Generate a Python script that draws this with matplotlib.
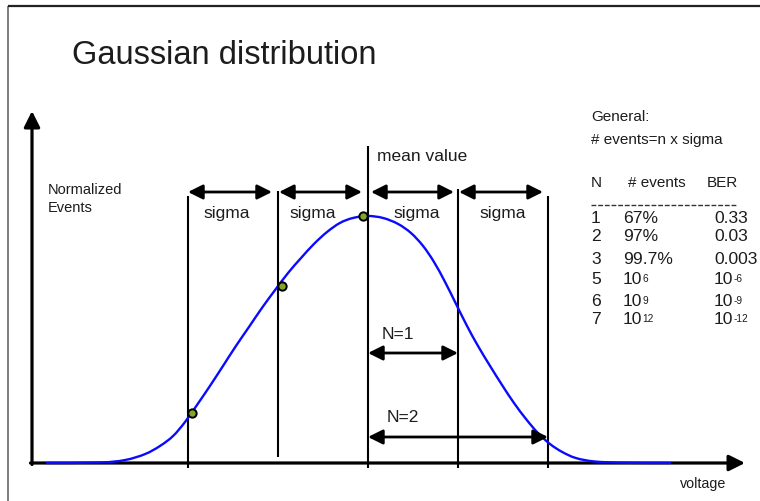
import matplotlib
matplotlib.use("Agg")
import matplotlib.pyplot as plt
from matplotlib.path import Path
from matplotlib.patches import PathPatch
import numpy as np

plt.rcParams['font.family'] = ['Liberation Sans', 'DejaVu Sans']

# ---------------- data ----------------
# Gaussian curve: x in sigma units (mean = 0), y normalized events
curve_x = [-3.567, -2.978, -2.7, -2.478, -2.311, -2.167, -2.033, -1.9, -1.756, -1.611,
           -1.467, -1.322, -1.178, -1.033, -0.889, -0.744, -0.6, -0.456, -0.311, -0.167,
           0.0, 0.167, 0.333, 0.478, 0.611, 0.733, 0.856, 0.978, 1.1, 1.222, 1.356,
           1.489, 1.622, 1.756, 1.889, 2.022, 2.156, 2.311, 2.522, 2.856, 3.356]
curve_y = [0.0, 0.002, 0.012, 0.036, 0.069, 0.109, 0.166, 0.235, 0.312, 0.393,
           0.474, 0.551, 0.628, 0.700, 0.769, 0.830, 0.887, 0.935, 0.972, 0.992,
           1.0, 0.992, 0.968, 0.931, 0.879, 0.814, 0.733, 0.644, 0.555, 0.474, 0.393,
           0.316, 0.243, 0.178, 0.121, 0.077, 0.045, 0.020, 0.006, 0.001, 0.0]
dot_x = [-1.956, -0.956, -0.056]
dot_y = [0.202, 0.718, 1.0]
sigma_bounds = [-2, -1, 0, 1, 2]
sigma_labels = ['sigma', 'sigma', 'sigma', 'sigma']
n_labels = ['N=1', 'N=2']

title = 'Gaussian distribution'
ylabel = 'Normalized\nEvents'
xlabel = 'voltage'
general = ['General:', '# events=n x sigma']
table_header = ['N', '# events', 'BER']
rows_N = ['1', '2', '3', '5', '6', '7']
events_main = ['67%', '97%', '99.7%', '10', '10', '10']
events_sup = ['', '', '', '6', '9', '12']
ber_main = ['0.33', '0.03', '0.003', '10', '10', '10']
ber_sup = ['', '', '', '-6', '-9', '-12']

# ---------------- layout helpers (pixel <-> data) ----------------
W, H = 760, 502
X0, SIG = 368.0, 90.0      # pixel x of mean, pixels per sigma
Y0, PK = 464.0, 247.0      # pixel y of baseline, pixels for peak


def X(px):
    return (px - X0) / SIG


def Y(py):
    return (Y0 - py) / PK


fig = plt.figure(figsize=(W / 100, H / 100), dpi=100)
ax = fig.add_axes([0, 0, 1, 1])
ax.set_xlim(X(0), X(W))
ax.set_ylim(Y(H), Y(0))
ax.axis('off')

TXT = '#1c1c1c'

# frame of the slide
ax.plot([X(8), X(8)], [Y(7), Y(H)], color='#666666', lw=1.2, solid_capstyle='butt')
ax.plot([X(8), X(W)], [Y(7), Y(7)], color='#222222', lw=1.6, solid_capstyle='butt')

# title
ax.text(X(72), Y(55), title, fontsize=23.5, color=TXT, ha='left', va='center')

# axes arrows
ax.annotate('', xy=(X(32), Y(112)), xytext=(X(32), Y(465.5)),
            arrowprops=dict(arrowstyle='-|>', lw=2.3, color='black',
                            mutation_scale=24, shrinkA=0, shrinkB=0))
ax.annotate('', xy=(X(745), Y(464)), xytext=(X(30.5), Y(464)),
            arrowprops=dict(arrowstyle='-|>', lw=2.3, color='black',
                            mutation_scale=24, shrinkA=0, shrinkB=0))

# vertical sigma lines
tops = [197, 192, 147, 190, 197]
bottoms = [469, 458, 469, 469, 469]
for b, t, bo in zip(sigma_bounds, tops, bottoms):
    ax.plot([b, b], [Y(t), Y(bo)], color='black', lw=1.5, solid_capstyle='butt')

# curve drawn as a smooth path through the read points (Catmull-Rom -> Bezier)
P = np.column_stack([curve_x, curve_y])
Pe = np.vstack([P[0], P, P[-1]])
verts = [tuple(P[0])]
codes = [Path.MOVETO]
for i in range(1, len(Pe) - 2):
    p0, p1, p2, p3 = Pe[i - 1], Pe[i], Pe[i + 1], Pe[i + 2]
    c1 = p1 + (p2 - p0) / 6.0
    c2 = p2 - (p3 - p1) / 6.0
    verts += [tuple(c1), tuple(c2), tuple(p2)]
    codes += [Path.CURVE4] * 3
ax.add_patch(PathPatch(Path(verts, codes), fill=False, edgecolor='#0a0aff', lw=1.7,
                       capstyle='round', joinstyle='round', zorder=3))

# dots
ax.plot(dot_x, dot_y, 'o', ms=6, mfc='#82a62a', mec='black', mew=1.4, zorder=4)


def darrow(x1, x2, y):
    ax.annotate('', xy=(X(x2), Y(y)), xytext=(X(x1), Y(y)),
                arrowprops=dict(arrowstyle='<|-|>', lw=2.0, color='black',
                                mutation_scale=22, shrinkA=0, shrinkB=0))


# sigma arrows and labels
spans = [(188, 272), (279, 362), (371, 454), (459, 543)]
label_cx = [227, 313, 417, 503]
for (a, b), lab, cx in zip(spans, sigma_labels, label_cx):
    darrow(a, b, 193)
    ax.text(X(cx), Y(214), lab, fontsize=12.5, color=TXT, ha='center', va='center')

ax.text(X(377), Y(157), 'mean value', fontsize=12.5, color=TXT, ha='left', va='center')

# N arrows
darrow(368, 458, 354)
darrow(368, 548, 438)
ax.text(X(382), Y(335), n_labels[0], fontsize=12.5, color=TXT, ha='left', va='center')
ax.text(X(387), Y(418), n_labels[1], fontsize=12.5, color=TXT, ha='left', va='center')

# axis labels
ax.text(X(48), Y(199), ylabel, fontsize=10.5, color=TXT, ha='left', va='center',
        linespacing=1.45)
ax.text(X(680), Y(484), xlabel, fontsize=10.3, color=TXT, ha='left', va='center')

# general info & table
ax.text(X(591), Y(117), general[0], fontsize=11, color=TXT, ha='left', va='center')
ax.text(X(591), Y(140), general[1], fontsize=11, color=TXT, ha='left', va='center')

hdr_x = [591, 628, 707]
for hx, h in zip(hdr_x, table_header):
    ax.text(X(hx), Y(183), h, fontsize=11, color=TXT, ha='left', va='center')

ax.plot([X(591), X(737)], [Y(206), Y(206)], color='#333333', lw=1.0,
        dashes=(3.5, 1.3))

row_y = [219, 237, 259, 280, 302, 320]
col_x = [591, 623, 714]
for ry, n, em, es, bm, bs in zip(row_y, rows_N, events_main, events_sup, ber_main, ber_sup):
    ax.text(X(col_x[0]), Y(ry), n, fontsize=12.6, color=TXT, ha='left', va='center')
    for cx, main, sup in ((col_x[1], em, es), (col_x[2], bm, bs)):
        t = ax.text(X(cx), Y(ry), main, fontsize=12.6, color=TXT, ha='left', va='center')
        if sup:
            ax.annotate(sup, xy=(1.0, 0.9), xycoords=t, fontsize=7.3, color=TXT,
                        ha='left', va='top')

fig.savefig('out.png', dpi=100)
